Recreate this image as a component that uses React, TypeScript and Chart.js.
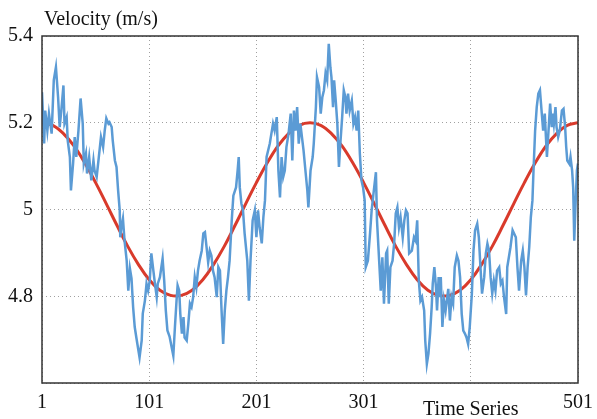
import { useEffect, useRef } from 'react';
import { Chart, registerables } from 'chart.js';

Chart.register(...registerables);

const xTicks = [1, 101, 201, 301, 401, 501];
const yTicks = [4.6, 4.8, 5, 5.2, 5.4];
const xTitleAt = 401;

const sineT = [1, 11, 21, 31, 41, 51, 61, 71, 81, 91, 101, 111, 121, 131, 141, 151, 161, 171, 181, 191, 201, 211, 221, 231, 241, 251, 261, 271, 281, 291, 301, 311, 321, 331, 341, 351, 361, 371, 381, 391, 401, 411, 421, 431, 441, 451, 461, 471, 481, 491, 501];
const sineV = [5.2, 5.194, 5.175, 5.146, 5.107, 5.062, 5.013, 4.963, 4.915, 4.873, 4.838, 4.814, 4.802, 4.802, 4.814, 4.838, 4.873, 4.915, 4.963, 5.013, 5.062, 5.107, 5.146, 5.175, 5.194, 5.2, 5.194, 5.175, 5.146, 5.107, 5.062, 5.013, 4.963, 4.915, 4.873, 4.838, 4.814, 4.802, 4.802, 4.814, 4.838, 4.873, 4.915, 4.963, 5.013, 5.062, 5.107, 5.146, 5.175, 5.194, 5.2];

const velocitySamples: [number, number][] = [
  [1, 5.27], [3, 5.152], [4, 5.228], [6, 5.182], [7.5, 5.221], [10, 5.175], [12, 5.298], [14, 5.328], [16, 5.259], [17.5, 5.19],
  [19, 5.228], [21, 5.286], [22, 5.198], [24, 5.213], [25, 5.159], [27, 5.121], [28, 5.044], [30, 5.106], [31.5, 5.167], [33, 5.121],
  [35, 5.182], [37, 5.256], [39, 5.198], [40, 5.106], [42, 5.129], [43, 5.083], [45, 5.121], [47, 5.067], [49, 5.113], [50, 5.09],
  [52, 5.075], [54, 5.121], [56, 5.167], [58, 5.144], [59.5, 5.182], [61, 5.21], [63, 5.198], [64, 5.201], [66, 5.19], [67, 5.159],
  [69, 5.113], [70.5, 5.098], [72, 5.044], [73.5, 4.998], [74, 4.936], [75, 4.959], [76.5, 4.979], [78, 4.928], [80, 4.882], [81.5, 4.813],
  [83, 4.864], [84.5, 4.841], [86, 4.775], [87.5, 4.729], [89, 4.705], [90.5, 4.682], [92, 4.659], [94, 4.698], [95, 4.76], [97, 4.79],
  [98.5, 4.829], [100, 4.813], [101.5, 4.836], [103, 4.899], [104.5, 4.867], [106, 4.836], [108, 4.798], [109, 4.829], [111, 4.844], [113.5, 4.887],
  [115, 4.836], [116.5, 4.767], [118, 4.721], [120, 4.707], [122, 4.682], [123.5, 4.663], [125, 4.729], [126.5, 4.79], [127.5, 4.825], [129, 4.813],
  [130, 4.76], [131.5, 4.714], [133, 4.752], [134, 4.705], [136, 4.698], [137.5, 4.737], [139, 4.783], [140.5, 4.775], [142, 4.798], [143.5, 4.844],
  [145, 4.821], [146.5, 4.859], [148, 4.882], [150, 4.905], [151.5, 4.945], [153, 4.948], [154.5, 4.913], [156, 4.878], [157.5, 4.905], [159, 4.894],
  [160.5, 4.859], [162, 4.844], [164, 4.798], [165.5, 4.867], [167, 4.859], [168.5, 4.767], [170, 4.69], [171.5, 4.767], [173, 4.813], [174.5, 4.844],
  [176, 4.882], [178, 4.975], [179.5, 5.032], [182, 5.051], [183.5, 5.09], [184.5, 5.121], [185.5, 5.051], [187, 5.014], [188.5, 4.998], [190, 4.945],
  [192.5, 4.882], [194, 4.79], [195.5, 4.882], [197.5, 4.975], [199.5, 4.998], [201, 4.936], [202.5, 4.998], [204, 4.959], [206, 4.922], [207.5, 4.982],
  [209, 5.021], [210.5, 5.121], [213.5, 5.152], [216.5, 5.198], [218, 5.182], [220, 5.213], [221.5, 5.09], [223, 5.028], [224.5, 5.121], [226, 5.075],
  [227.5, 5.09], [229, 5.144], [231, 5.175], [233, 5.221], [234.5, 5.113], [236, 5.228], [237.5, 5.182], [239, 5.236], [240.5, 5.152], [242, 5.198],
  [243.5, 5.167], [245, 5.136], [247, 5.083], [248.5, 5.044], [249.5, 5.005], [251.5, 5.09], [253.5, 5.121], [254.5, 5.152], [256.5, 5.236], [257.5, 5.305],
  [259.5, 5.282], [261, 5.221], [262.5, 5.259], [264, 5.275], [265.5, 5.314], [267, 5.298], [268.5, 5.382], [270, 5.328], [271, 5.305], [272.5, 5.236],
  [273.5, 5.298], [275, 5.251], [276.5, 5.198], [278, 5.098], [279.5, 5.159], [281, 5.213], [282.5, 5.275], [284, 5.259], [285, 5.221], [286.5, 5.267],
  [288, 5.228], [290, 5.251], [291.5, 5.198], [293, 5.213], [294.5, 5.182], [296, 5.228], [297.5, 5.129], [299, 5.067], [300.5, 5.051], [302, 5.021],
  [303, 4.867], [305, 4.882], [307, 4.945], [308.5, 4.998], [310, 5.032], [312.5, 5.086], [313.5, 4.975], [315.5, 4.882], [317, 4.813], [318.5, 4.89],
  [320, 4.783], [322, 4.899], [323, 4.905], [324.5, 4.783], [326, 4.867], [328, 4.882], [329.5, 4.922], [331, 4.991], [332.5, 5.005], [334, 4.959],
  [335.5, 4.982], [337.5, 4.936], [339, 4.975], [340.5, 4.998], [342, 4.991], [343.5, 4.899], [346, 4.905], [348, 4.936], [349.5, 4.928], [351, 4.975],
  [352.5, 4.836], [354, 4.79], [355.5, 4.798], [357.5, 4.767], [358.5, 4.698], [360, 4.644], [361.5, 4.668], [363, 4.714], [364.5, 4.775], [365.5, 4.829],
  [367, 4.867], [368.5, 4.821], [369.5, 4.767], [371, 4.844], [372, 4.798], [373, 4.844], [374.5, 4.729], [376, 4.79], [377.5, 4.767], [379, 4.798],
  [380, 4.817], [381.5, 4.744], [383, 4.798], [384.5, 4.783], [386, 4.867], [388, 4.894], [389.5, 4.882], [391, 4.844], [392.5, 4.76], [394, 4.721],
  [395.5, 4.714], [397, 4.705], [398.5, 4.69], [400, 4.729], [402, 4.806], [403.5, 4.905], [405, 4.952], [407, 4.967], [408.5, 4.936], [410, 4.867],
  [411.5, 4.806], [413.5, 4.844], [415, 4.898], [416.5, 4.921], [418, 4.905], [419.5, 4.844], [421, 4.806], [422.5, 4.836], [424, 4.813], [425.5, 4.859],
  [427.5, 4.867], [429, 4.829], [430.5, 4.836], [432, 4.798], [434, 4.759], [435, 4.867], [436.5, 4.89], [438, 4.913], [440, 4.952], [441.5, 4.944],
  [443, 4.936], [444.5, 4.867], [446, 4.813], [448, 4.882], [449.5, 4.905], [451, 4.867], [452.5, 4.802], [454, 4.867], [455.5, 4.913], [457, 4.982],
  [458.5, 5.021], [459.5, 5.09], [461, 5.182], [462.5, 5.236], [464, 5.267], [465.5, 5.275], [467, 5.228], [468.5, 5.182], [470, 5.221], [472, 5.121],
  [473.5, 5.182], [475, 5.244], [476.5, 5.19], [477.5, 5.221], [478.5, 5.198], [480, 5.236], [481, 5.19], [482.5, 5.167], [484, 5.182], [486, 5.228],
  [487.5, 5.232], [489, 5.19], [490, 5.144], [491, 5.113], [493, 5.105], [494, 5.121], [495.5, 5.09], [496.5, 5.051], [497.5, 4.928], [498.5, 4.998],
  [500, 5.09], [501, 5.106],
];

const FONT = "'Liberation Serif', 'Times New Roman', serif";

export default function App() {
  const ref = useRef<HTMLCanvasElement>(null);

  useEffect(() => {
    document.body.style.margin = '0';
    const canvas = ref.current;
    if (!canvas) return;

    const framePlugin = {
      id: 'frameAndTitles',
      afterDraw(chart: any) {
        const { ctx, chartArea } = chart;
        const { left, right, top, bottom } = chartArea;
        ctx.save();
        ctx.strokeStyle = '#333333';
        ctx.lineWidth = 1.5;
        ctx.strokeRect(left, top, right - left, bottom - top);
        ctx.fillStyle = '#111111';
        ctx.font = `20px ${FONT}`;
        ctx.textBaseline = 'alphabetic';
        ctx.textAlign = 'left';
        ctx.fillText('Velocity (m/s)', 44, 25);
        ctx.textAlign = 'center';
        ctx.fillText('Time Series', chart.scales.x.getPixelForValue(xTitleAt), 415);
        ctx.restore();
      },
    };

    const chart = new Chart(canvas, {
      type: 'line',
      data: {
        datasets: [
          {
            label: 'Velocity',
            data: velocitySamples.map(([t, v]) => ({ x: t, y: v })),
            borderColor: '#5b9bd5',
            borderWidth: 2.5,
            pointRadius: 0,
            tension: 0,
            fill: false,
          },
          {
            label: 'Trend',
            data: sineT.map((t, i) => ({ x: t, y: sineV[i] })),
            borderColor: '#d93a2b',
            borderWidth: 3,
            pointRadius: 0,
            tension: 0.4,
            fill: false,
          },
        ],
      },
      options: {
        animation: false,
        responsive: false,
        events: [],
        layout: { padding: { left: 0, right: 19, top: 36, bottom: 0 } },
        plugins: {
          legend: { display: false },
          tooltip: { enabled: false },
          title: { display: false },
        },
        scales: {
          x: {
            type: 'linear',
            min: 1,
            max: 501,
            afterBuildTicks: (scale: any) => {
              scale.ticks = xTicks.map((v) => ({ value: v }));
            },
            afterFit: (scale: any) => {
              scale.height = 36;
              scale.paddingLeft = 0;
              scale.paddingRight = 0;
            },
            ticks: {
              autoSkip: false,
              maxRotation: 0,
              padding: 8,
              color: '#111111',
              font: { family: FONT, size: 20 },
              callback: (v: any) => (v === xTitleAt ? '' : String(v)),
            },
            grid: { color: '#a0a0a0', lineWidth: 1, drawTicks: false },
            border: { display: false, dash: [1, 3] },
          },
          y: {
            type: 'linear',
            min: 4.6,
            max: 5.4,
            afterBuildTicks: (scale: any) => {
              scale.ticks = yTicks.map((v) => ({ value: v }));
            },
            afterFit: (scale: any) => {
              scale.width = 42;
              scale.paddingTop = 0;
              scale.paddingBottom = 0;
            },
            ticks: {
              padding: 9,
              color: '#111111',
              font: { family: FONT, size: 20 },
              callback: (v: any) => (Math.abs(v - 4.6) < 1e-6 ? '' : String(Math.round(v * 10) / 10)),
            },
            grid: { color: '#a0a0a0', lineWidth: 1, drawTicks: false },
            border: { display: false, dash: [1, 3] },
          },
        },
      },
      plugins: [framePlugin],
    });

    return () => chart.destroy();
  }, []);

  return <canvas ref={ref} width={597} height={419} style={{ display: 'block' }} />;
}
